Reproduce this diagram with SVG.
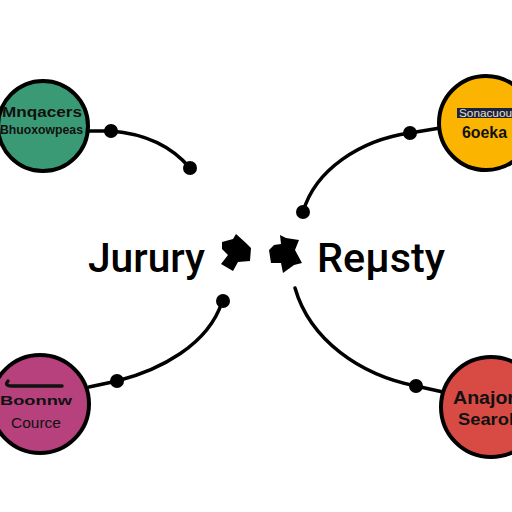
<svg xmlns="http://www.w3.org/2000/svg" width="512" height="512" viewBox="0 0 512 512">
<style>
.node{stroke:#000;stroke-width:4}
.conn{fill:none;stroke:#000;stroke-width:3.5;stroke-linecap:round}
.dot{fill:#000}
.lbl{font-family:"Liberation Sans",Arial,sans-serif;fill:#111}
.big{font-family:Roboto,"Liberation Sans",Arial,sans-serif;font-weight:500;font-size:41px;fill:#000}
</style>
<rect width="512" height="512" fill="#fff"/>
<g id="connectors">
<path class="conn" d="M88,131 L111,131 Q162,135 190,168"/>
<circle class="dot" cx="111" cy="131" r="7"/>
<circle class="dot" cx="190" cy="168" r="7"/>
<path class="conn" d="M440,128 L410,133 C360,140 315,170 303,212"/>
<circle class="dot" cx="410" cy="133" r="7"/>
<circle class="dot" cx="303" cy="212" r="7"/>
<path class="conn" d="M89,387 L117,381 C160,370 208,345 222,302"/>
<circle class="dot" cx="117" cy="381" r="7"/>
<circle class="dot" cx="223" cy="301" r="7"/>
<path class="conn" d="M443,392 L416,386 C360,375 310,340 295,288"/>
<circle class="dot" cx="416" cy="386" r="7"/>
</g>
<g id="node-green">
<circle class="node" cx="43" cy="126" r="45" fill="#3a9a76"/>
<text class="lbl" x="2" y="117" font-size="14" font-weight="bold" font-family="Liberation Serif" textLength="80" lengthAdjust="spacingAndGlyphs">Mnqacers</text>
<text class="lbl" x="0" y="134" font-size="12" font-weight="bold" textLength="83" lengthAdjust="spacingAndGlyphs">Bhuoxowpeas</text>
</g>
<g id="node-yellow">
<circle class="node" cx="486" cy="123" r="47" fill="#fbb500"/>
<rect x="457" y="108" width="55" height="10" fill="#1c2340"/>
<text x="459" y="117" font-size="10" font-family="Liberation Sans" fill="#e8e0c0" textLength="53" lengthAdjust="spacingAndGlyphs">Sonacuou</text>
<text class="lbl" x="462" y="138" font-size="17" font-weight="bold" textLength="45" lengthAdjust="spacingAndGlyphs">6oeka</text>
</g>
<g id="node-pink">
<circle class="node" cx="40" cy="404" r="49" fill="#b6417c"/>
<path d="M8,381 Q4,386 12,386 L62,386" fill="none" stroke="#111" stroke-width="3.5" stroke-linecap="round"/>
<text class="lbl" x="0" y="405" font-size="13" font-weight="bold" textLength="72" lengthAdjust="spacingAndGlyphs">Boonnw</text>
<text class="lbl" x="11" y="428" font-size="14" textLength="50" lengthAdjust="spacingAndGlyphs">Cource</text>
</g>
<g id="node-red">
<circle class="node" cx="491" cy="407" r="50" fill="#d84b45"/>
<text class="lbl" x="453" y="404" font-size="18" font-weight="bold" textLength="62" lengthAdjust="spacingAndGlyphs">Anajor</text>
<text class="lbl" x="458" y="425" font-size="17" font-weight="bold" textLength="56" lengthAdjust="spacingAndGlyphs">Searol</text>
</g>
<g id="center">
<text class="big" x="88" y="272" textLength="117" lengthAdjust="spacingAndGlyphs">Jurury</text>
<polygon points="222,242 233,239 236,234 246,243 251,248 250,261 238,262 233,271 221,264 228,255 222,249" fill="#000"/>
<polygon points="280,235 286,238 299,240 295,250 302,263 294,265 283,273 281,263 271,263 269,250 274,245 281,244" fill="#000"/>
<text class="big" x="317" y="272" textLength="128" lengthAdjust="spacingAndGlyphs">Reμsty</text>
</g>
</svg>
